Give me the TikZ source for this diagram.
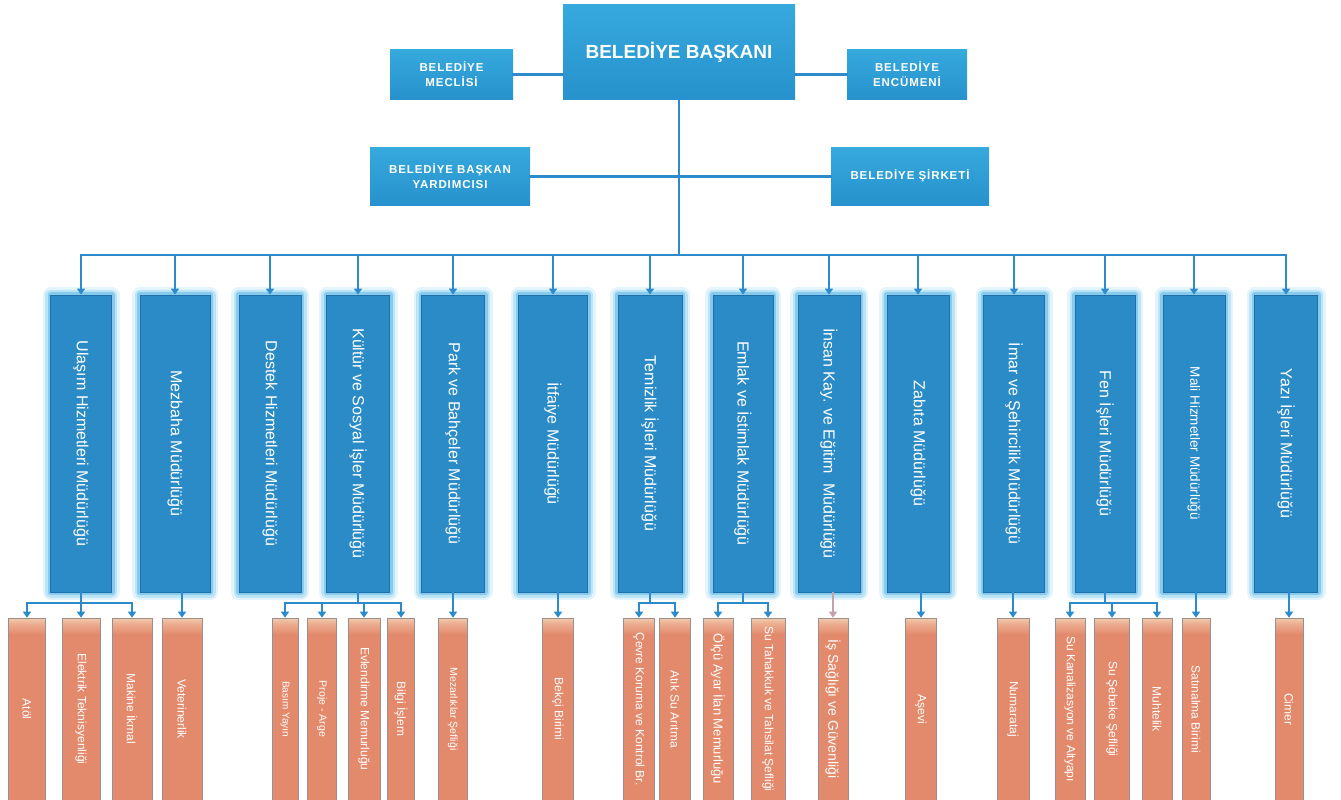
\documentclass[tikz,border=0pt]{standalone}
\usepackage{fontspec}
\setmainfont{Liberation Sans}
\usepackage{graphicx}
\usetikzlibrary{arrows.meta}
\definecolor{linec}{HTML}{2E8BCB}
\definecolor{dirfill}{HTML}{2B8BC6}
\definecolor{dirdark}{HTML}{1F6FA8}
\definecolor{glowA}{HTML}{E3F4FC}
\definecolor{glowM}{HTML}{BCE4F7}
\definecolor{glowB}{HTML}{86CBEE}
\definecolor{topA}{HTML}{36A9DD}
\definecolor{topB}{HTML}{2792CD}
\definecolor{unitA}{HTML}{F3CBAE}
\definecolor{unitB}{HTML}{E38A6D}
\definecolor{unitedge}{HTML}{9A8F8C}
\definecolor{mauve}{HTML}{C4A0AC}
\pgfdeclareverticalshading{unitshade}{100bp}{color(0bp)=(unitB); color(70.5bp)=(unitB); color(73.5bp)=(unitA!55!unitB); color(75bp)=(unitA); color(100bp)=(unitA)}
\newcommand\vlabel[1]{\rotatebox{-90}{#1}}
\tikzset{
 topbox/.style={rectangle, inner sep=0pt, top color=topA, bottom color=topB, text=white,
   font=\bfseries\fontsize{11.5}{15}\selectfont\addfontfeature{LetterSpace=8}, align=center},
 dirbox/.style={rectangle, inner sep=0pt, minimum height=297pt, fill=dirfill, draw=dirdark,
   line width=0.8pt, text=white, font=\fontsize{16}{16}\selectfont,
   preaction={draw=glowA, line width=16pt, line join=round},
   preaction={draw=glowM, line width=11pt, line join=round},
   preaction={draw=glowB, line width=6pt, line join=round}},
 unitbox/.style={rectangle, inner sep=0pt, minimum height=182pt, shading=unitshade, draw=unitedge,
   line width=0.6pt, text=white, font=\fontsize{12}{12}\selectfont},
 conn/.style={draw=linec, line width=2.2pt, line cap=rect},
 arr/.style={draw=linec, line width=2.2pt, -{Triangle[length=6pt,width=8pt]}},
}
\begin{document}
\begin{tikzpicture}[x=1pt,y=-1pt]
\fill[white] (0,0) rectangle (1341,800);
\useasboundingbox (0,0) rectangle (1341,800);
% top level
\node[topbox, minimum width=232pt, minimum height=94pt, font=\bfseries\fontsize{19}{19}\selectfont] (bask) at (679,52) {BELEDİYE BAŞKANI};
\node[topbox, minimum width=123pt, minimum height=49pt] (mec) at (451.5,74.5) {BELEDİYE\\MECLİSİ};
\node[topbox, minimum width=120pt, minimum height=49pt] (enc) at (907,74.5) {BELEDİYE\\ENCÜMENİ};
\node[topbox, minimum width=160pt, minimum height=58pt] (yrd) at (450,176) {BELEDİYE BAŞKAN\\YARDIMCISI};
\node[topbox, minimum width=158pt, minimum height=58pt] (sir) at (910,176) {BELEDİYE ŞİRKETİ};
% directorates
\node[dirbox, minimum width=61pt] (d1) at (81,443.5) {\vlabel{Ulaşım Hizmetleri Müdürlüğü}};
\node[dirbox, minimum width=70pt] (d2) at (175,443.5) {\vlabel{Mezbaha Müdürlüğü}};
\node[dirbox, minimum width=62pt] (d3) at (270,443.5) {\vlabel{Destek Hizmetleri Müdürlüğü}};
\node[dirbox, minimum width=63pt] (d4) at (358,443.5) {\vlabel{Kültür ve Sosyal İşler Müdürlüğü}};
\node[dirbox, minimum width=63pt] (d5) at (453,443.5) {\vlabel{Park ve Bahçeler Müdürlüğü}};
\node[dirbox, minimum width=69pt] (d6) at (553,443.5) {\vlabel{İtfaiye Müdürlüğü}};
\node[dirbox, minimum width=64pt] (d7) at (650,443.5) {\vlabel{Temizlik İşleri Müdürlüğü}};
\node[dirbox, minimum width=60pt] (d8) at (743,443.5) {\vlabel{Emlak ve İstimlak Müdürlüğü}};
\node[dirbox, minimum width=62pt] (d9) at (829,443.5) {\vlabel{İnsan Kay. ve Eğitim\ \ Müdürlüğü}};
\node[dirbox, minimum width=62pt] (d10) at (918,443.5) {\vlabel{Zabıta Müdürlüğü}};
\node[dirbox, minimum width=61pt] (d11) at (1014,443.5) {\vlabel{İmar ve Şehircilik Müdürlüğü}};
\node[dirbox, minimum width=60pt] (d12) at (1105,443.5) {\vlabel{Fen İşleri Müdürlüğü}};
\node[dirbox, minimum width=62pt, font=\fontsize{13.5}{14}\selectfont] (d13) at (1194,443.5) {\vlabel{Mali Hizmetler Müdürlüğü}};
\node[dirbox, minimum width=63pt] (d14) at (1286,443.5) {\vlabel{Yazı İşleri Müdürlüğü}};
% units
\node[unitbox, minimum width=37pt] (b1) at (27,709) {\vlabel{Atöl}};
\node[unitbox, minimum width=38pt] (b2) at (81,709) {\vlabel{Elektrik Teknisyenliği}};
\node[unitbox, minimum width=40pt] (b3) at (132,709) {\vlabel{Makine İkmal}};
\node[unitbox, minimum width=40pt] (b4) at (182,709) {\vlabel{Veterinerlik}};
\node[unitbox, minimum width=26pt, font=\fontsize{10}{10}\selectfont] (b5) at (285,709) {\vlabel{Basım Yayın}};
\node[unitbox, minimum width=29pt, font=\fontsize{10.5}{10}\selectfont] (b6) at (322,709) {\vlabel{Proje - Arge}};
\node[unitbox, minimum width=32pt] (b7) at (364,709) {\vlabel{Evlendirme Memurluğu}};
\node[unitbox, minimum width=27pt] (b8) at (401,709) {\vlabel{Bilgi İşlem}};
\node[unitbox, minimum width=29pt, font=\fontsize{10.5}{10}\selectfont] (b9) at (453,709) {\vlabel{Mezarlıklar Şefliği}};
\node[unitbox, minimum width=31pt] (b10) at (558,709) {\vlabel{Bekçi Birimi}};
\node[unitbox, minimum width=31pt] (b11) at (639,709) {\vlabel{Çevre Koruma ve Kontrol Br.}};
\node[unitbox, minimum width=31pt] (b12) at (675,709) {\vlabel{Atık Su Arıtma}};
\node[unitbox, minimum width=30pt, font=\fontsize{13}{13}\selectfont] (b13) at (718,709) {\vlabel{Ölçü Ayar İlan Memurluğu}};
\node[unitbox, minimum width=34pt] (b14) at (768,709) {\vlabel{Su Tahakkuk ve Tahsilat Şefliği}};
\node[unitbox, minimum width=30pt, font=\fontsize{14}{14}\selectfont] (b15) at (833,709) {\vlabel{İş Sağlığı ve Güvenliği}};
\node[unitbox, minimum width=31pt] (b16) at (921,709) {\vlabel{Aşevi}};
\node[unitbox, minimum width=32pt] (b17) at (1013,709) {\vlabel{Numarataj}};
\node[unitbox, minimum width=30pt] (b18) at (1070,709) {\vlabel{Su Kanalizasyon ve Altyapı}};
\node[unitbox, minimum width=35pt] (b19) at (1112,709) {\vlabel{Su Şebeke Şefliği}};
\node[unitbox, minimum width=30pt] (b20) at (1157,709) {\vlabel{Muhtelik}};
\node[unitbox, minimum width=28pt] (b21) at (1196,709) {\vlabel{Satınalma Birimi}};
\node[unitbox, minimum width=28pt] (b22) at (1289,709) {\vlabel{Cimer}};
% top connectors
\coordinate (busY) at (0,255);
\coordinate (subY) at (0,603);
\draw[conn, line width=3pt] (mec.east) -- (mec.east -| bask.west);
\draw[conn, line width=3pt] (enc.west) -- (enc.west -| bask.east);
\draw[conn] (bask.south) -- (bask.south |- busY);
\draw[conn, line width=3pt] (yrd.east) -- (yrd.east -| bask.south);
\draw[conn, line width=3pt] (sir.west) -- (sir.west -| bask.south);
\draw[conn] (d1.north |- busY) -- (d14.north |- busY);
\foreach \i in {1,...,14} \draw[arr] (d\i.north |- busY) -- (d\i.north);
% lower connectors: groups
\draw[conn] (d1.south) -- (d1.south |- subY);
\draw[conn] (b1.north |- subY) -- (b3.north |- subY);
\foreach \j in {1,2,3} \draw[arr] (b\j.north |- subY) -- (b\j.north);
\draw[conn] (d4.south) -- (d4.south |- subY);
\draw[conn] (b5.north |- subY) -- (b8.north |- subY);
\foreach \j in {5,6,7,8} \draw[arr] (b\j.north |- subY) -- (b\j.north);
\draw[conn] (d7.south) -- (d7.south |- subY);
\draw[conn] (b11.north |- subY) -- (b12.north |- subY);
\foreach \j in {11,12} \draw[arr] (b\j.north |- subY) -- (b\j.north);
\draw[conn] (d8.south) -- (d8.south |- subY);
\draw[conn] (b13.north |- subY) -- (b14.north |- subY);
\foreach \j in {13,14} \draw[arr] (b\j.north |- subY) -- (b\j.north);
\draw[conn] (d12.south) -- (d12.south |- subY);
\draw[conn] (b18.north |- subY) -- (b20.north |- subY);
\foreach \j in {18,19,20} \draw[arr] (b\j.north |- subY) -- (b\j.north);
% lower connectors: single
\draw[arr] (b4.north |- d2.south) -- (b4.north);
\draw[arr] (b9.north |- d5.south) -- (b9.north);
\draw[arr] (b10.north |- d6.south) -- (b10.north);
\draw[arr, draw=mauve] (b15.north |- d9.south) -- (b15.north);
\draw[arr] (b16.north |- d10.south) -- (b16.north);
\draw[arr] (b17.north |- d11.south) -- (b17.north);
\draw[arr] (b21.north |- d13.south) -- (b21.north);
\draw[arr] (b22.north |- d14.south) -- (b22.north);
\end{tikzpicture}
\end{document}
